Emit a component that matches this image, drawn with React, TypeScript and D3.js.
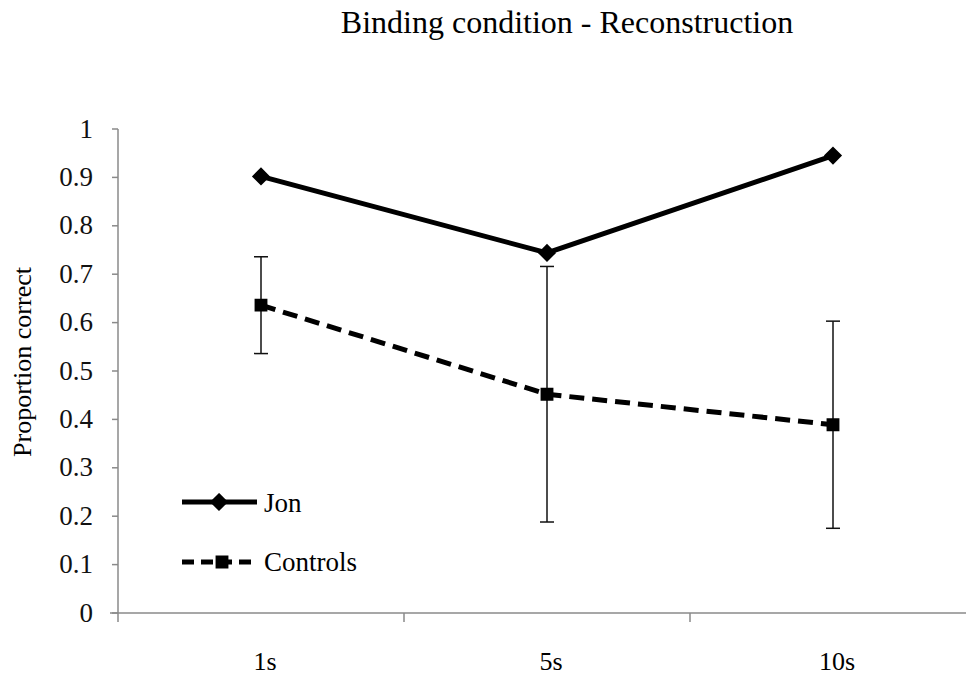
import * as d3 from "d3";

const categories = ["1s", "5s", "10s"];
const jonValues = [0.902, 0.744, 0.945];
const controlValues = [0.636, 0.452, 0.389];
const controlErrors = [0.1, 0.264, 0.214];
const yTicks = [0, 0.1, 0.2, 0.3, 0.4, 0.5, 0.6, 0.7, 0.8, 0.9, 1];

const font = "Liberation Serif";
const axisColor = "#8a8a8a";

export default function App() {
  const left = 118;
  const top = 129;
  const bottom = 613;
  const band = 286;

  // scales
  const x = d3
    .scaleBand()
    .domain(categories)
    .range([left, left + band * categories.length])
    .padding(0);
  const y = d3.scaleLinear().domain([0, 1]).range([bottom, top]);
  const cx = (c) => x(c) + x.bandwidth() / 2;

  const line = d3
    .line()
    .x((d, i) => cx(categories[i]))
    .y((d) => y(d));

  const diamond = d3.symbol().type(d3.symbolDiamond2).size(150)();
  const square = d3.symbol().type(d3.symbolSquare2).size(150)();

  return (
    <svg
      width={966}
      height={679}
      style={{ position: "absolute", left: 0, top: 0, background: "#fff", fontFamily: font }}
    >
      {/* title */}
      <text x={567} y={33} textAnchor="middle" style={{ fontFamily: font, fontSize: "32px" }}>
        Binding condition - Reconstruction
      </text>

      {/* y axis */}
      <line x1={left} x2={left} y1={top} y2={bottom} stroke={axisColor} strokeWidth={1.5} />
      {yTicks.map((t) => (
        <g key={t} transform={"translate(0," + y(t) + ")"}>
          <line x1={left - 6} x2={left} stroke={axisColor} strokeWidth={1.5} />
          <text x={left - 25} dy="0.32em" textAnchor="end" fill="#111" style={{ fontFamily: font, fontSize: "27px" }}>
            {d3.format("")(t)}
          </text>
        </g>
      ))}

      {/* x axis, ticks on band edges */}
      <line x1={left - 8} x2={966} y1={bottom} y2={bottom} stroke={axisColor} strokeWidth={1.5} />
      {categories.map((c) => (
        <g key={c}>
          <line x1={x(c)} x2={x(c)} y1={bottom} y2={bottom + 9} stroke={axisColor} strokeWidth={1.5} />
          <text x={cx(c) + 4} y={bottom + 57} textAnchor="middle" style={{ fontFamily: font, fontSize: "26px" }}>
            {c}
          </text>
        </g>
      ))}

      {/* y label */}
      <text transform="translate(31,362) rotate(-90)" textAnchor="middle" style={{ fontFamily: font, fontSize: "26px" }}>
        Proportion correct
      </text>

      {/* error bars */}
      {controlValues.map((v, i) => {
        const px = cx(categories[i]);
        const hi = y(v + controlErrors[i]);
        const lo = y(v - controlErrors[i]);
        return (
          <g key={i} stroke="#111" strokeWidth={1.5}>
            <line x1={px} x2={px} y1={hi} y2={lo} />
            <line x1={px - 7} x2={px + 7} y1={hi} y2={hi} />
            <line x1={px - 7} x2={px + 7} y1={lo} y2={lo} />
          </g>
        );
      })}

      {/* series lines */}
      <path d={line(controlValues)} fill="none" stroke="#000" strokeWidth={5} strokeDasharray="15,8" />
      <path d={line(jonValues)} fill="none" stroke="#000" strokeWidth={5} />

      {jonValues.map((v, i) => (
        <path key={"j" + i} d={diamond} transform={"translate(" + cx(categories[i]) + "," + y(v) + ")"} fill="#000" stroke="#000" strokeWidth={2} />
      ))}
      {controlValues.map((v, i) => (
        <path key={"c" + i} d={square} transform={"translate(" + cx(categories[i]) + "," + y(v) + ")"} fill="#000" stroke="#000" strokeWidth={2} />
      ))}

      {/* legend */}
      <line x1={182} x2={257} y1={502} y2={502} stroke="#000" strokeWidth={5} />
      <path d={diamond} transform="translate(219,502)" fill="#000" stroke="#000" strokeWidth={2} />
      <text x={264} y={512} style={{ fontFamily: font, fontSize: "27px" }}>Jon</text>

      <line x1={182} x2={257} y1={562} y2={562} stroke="#000" strokeWidth={5} strokeDasharray="12,7" />
      <path d={square} transform="translate(222,562)" fill="#000" stroke="#000" strokeWidth={2} />
      <text x={264} y={571} style={{ fontFamily: font, fontSize: "27px" }}>Controls</text>
    </svg>
  );
}
